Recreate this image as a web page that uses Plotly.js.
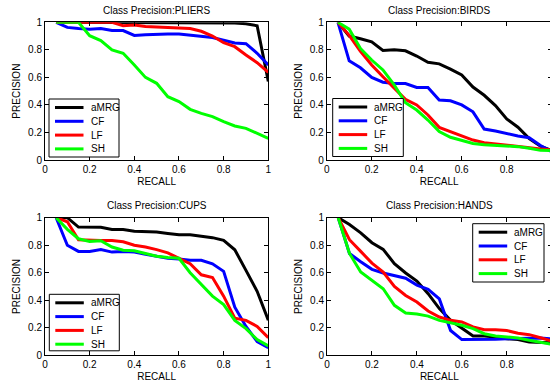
<!DOCTYPE html>
<html>
<head>
<meta charset="utf-8">
<script src="https://cdn.plot.ly/plotly-3.0.1.min.js"></script>
<style>html,body{margin:0;padding:0;overflow:hidden;background:#fff}</style>
</head>
<body>
<div id="chart"></div>
<script>
// ---------- data ----------
const recall = [0.05,0.10,0.15,0.20,0.25,0.30,0.35,0.40,0.45,0.50,0.55,0.60,0.65,0.70,0.75,0.80,0.85,0.90,0.95,1.00];
const methods = ['aMRG','CF','LF','SH'];
const classNames = ['PLIERS','BIRDS','CUPS','HANDS'];
const tickVals = [0,0.2,0.4,0.6,0.8,1];
const tickText = ['0','0.2','0.4','0.6','0.8','1'];

const pliers_aMRG = [1,1,1,1,1,1,1,1,1,1,1,1,1,1,1,1,0.995,0.99,0.975,0.57];
const pliers_CF   = [1,0.963,0.955,0.95,0.955,0.94,0.94,0.905,0.91,0.915,0.915,0.915,0.905,0.9,0.89,0.87,0.85,0.845,0.775,0.69];
const pliers_LF   = [1,1,1,1,1,1,0.975,0.98,0.97,0.965,0.965,0.96,0.955,0.935,0.9,0.852,0.823,0.763,0.707,0.637];
const pliers_SH   = [1,1,1,0.903,0.867,0.8,0.775,0.69,0.6,0.557,0.46,0.424,0.368,0.339,0.315,0.278,0.247,0.23,0.194,0.157];

const birds_aMRG = [1,0.9,0.88,0.858,0.795,0.8,0.793,0.755,0.71,0.698,0.66,0.617,0.53,0.47,0.395,0.298,0.238,0.155,0.1,0.07];
const birds_CF   = [1,0.72,0.67,0.6,0.565,0.555,0.555,0.527,0.527,0.435,0.43,0.4,0.35,0.225,0.21,0.19,0.175,0.162,0.105,0.06];
const birds_LF   = [1,0.905,0.79,0.69,0.605,0.52,0.44,0.4,0.327,0.237,0.206,0.174,0.145,0.126,0.116,0.107,0.097,0.087,0.08,0.073];
const birds_SH   = [1,0.95,0.81,0.726,0.654,0.545,0.416,0.363,0.29,0.206,0.165,0.14,0.12,0.11,0.106,0.106,0.097,0.085,0.07,0.068];

const cups_aMRG = [1,1,0.932,0.932,0.93,0.915,0.915,0.902,0.9,0.896,0.886,0.876,0.876,0.864,0.855,0.835,0.767,0.617,0.465,0.255];
const cups_CF   = [1,0.8,0.755,0.755,0.768,0.75,0.755,0.75,0.735,0.72,0.705,0.7,0.69,0.69,0.665,0.61,0.35,0.21,0.1,0.055];
const cups_LF   = [1,0.97,0.84,0.835,0.835,0.835,0.825,0.8,0.787,0.768,0.745,0.705,0.666,0.585,0.565,0.43,0.27,0.254,0.21,0.128];
const cups_SH   = [1,0.915,0.847,0.828,0.833,0.787,0.763,0.76,0.74,0.72,0.71,0.705,0.6,0.515,0.43,0.368,0.254,0.194,0.114,0.068];

const hands_aMRG = [1,0.95,0.89,0.818,0.77,0.666,0.598,0.54,0.448,0.339,0.254,0.194,0.14,0.14,0.133,0.12,0.115,0.097,0.093,0.09];
const hands_CF   = [1,0.74,0.68,0.625,0.598,0.58,0.56,0.51,0.48,0.41,0.18,0.114,0.114,0.114,0.117,0.12,0.123,0.125,0.126,0.12];
const hands_LF   = [1,0.84,0.755,0.67,0.605,0.5,0.435,0.387,0.322,0.278,0.254,0.242,0.206,0.186,0.186,0.18,0.16,0.15,0.128,0.104];
const hands_SH   = [1,0.74,0.605,0.545,0.484,0.363,0.307,0.3,0.285,0.254,0.237,0.218,0.194,0.157,0.14,0.133,0.126,0.109,0.097,0.08];

const seriesByClass = [
  [pliers_aMRG, pliers_CF, pliers_LF, pliers_SH],
  [birds_aMRG, birds_CF, birds_LF, birds_SH],
  [cups_aMRG, cups_CF, cups_LF, cups_SH],
  [hands_aMRG, hands_CF, hands_LF, hands_SH]
];

// ---------- styling ----------
const colors = ['#000000','#0000ff','#ff0000','#00ff00'];
const W = 552, H = 385;
const FONT = 'Liberation Sans, Arial, sans-serif';
const px = v => v / W;
const py = v => 1 - v / H;

const domains = [
  {x:[45,268.3],  y:[22.3,160]},
  {x:[326.7,551.7], y:[22.3,160]},
  {x:[45,268.3],  y:[217.7,355.3]},
  {x:[327,551.7], y:[217.7,355.3]}
];
const legendBoxes = [
  {x:49,    y:99,    w:70, h:58},
  {x:332.7, y:98.5,  w:70.6, h:58},
  {x:49.3,  y:294.3, w:70, h:56.5},
  {x:472.7, y:223.7, w:71.3, h:58.3}
];

const traces = [];
const layout = {
  width: W, height: H,
  margin: {l:0, r:0, t:0, b:0},
  paper_bgcolor: '#fff', plot_bgcolor: '#fff',
  showlegend: false,
  font: {family: FONT, size: 10, color: '#000'},
  shapes: [], annotations: []
};

function axisBase(title, standoff) {
  return {
    range: [0,1], tickmode: 'array', tickvals: tickVals, ticktext: tickText,
    ticks: 'inside', ticklen: 4, tickwidth: 1, tickcolor: '#000',
    showline: true, linecolor: '#000', linewidth: 1, mirror: 'ticks',
    showgrid: false, zeroline: false, fixedrange: true,
    tickfont: {family: FONT, size: 10, color: '#000'},
    title: {text: title, standoff: standoff, font: {family: FONT, size: 10, color: '#000'}}
  };
}

seriesByClass.forEach((series, k) => {
  const sfx = k === 0 ? '' : String(k + 1);
  series.forEach((vals, m) => {
    traces.push({
      type: 'scatter', mode: 'lines', name: methods[m],
      x: recall, y: vals,
      xaxis: 'x' + sfx, yaxis: 'y' + sfx,
      line: {color: colors[m], width: 3}
    });
  });
  const d = domains[k];
  const xa = axisBase('RECALL', 3);
  xa.domain = [px(d.x[0]), px(d.x[1])];
  xa.anchor = 'y' + sfx;
  const ya = axisBase('PRECISION', 5);
  ya.domain = [py(d.y[1]), py(d.y[0])];
  ya.anchor = 'x' + sfx;
  layout['xaxis' + sfx] = xa;
  layout['yaxis' + sfx] = ya;

  // subplot title
  layout.annotations.push({
    xref: 'paper', yref: 'paper',
    x: px((d.x[0] + d.x[1]) / 2), y: py(d.y[0] - 12),
    xanchor: 'center', yanchor: 'middle', showarrow: false,
    text: 'Class Precision:' + classNames[k],
    font: {family: FONT, size: 10, color: '#000'}
  });

  // legend box
  const b = legendBoxes[k];
  layout.shapes.push({
    type: 'rect', xref: 'paper', yref: 'paper', layer: 'above',
    x0: px(b.x), x1: px(b.x + b.w), y0: py(b.y + b.h), y1: py(b.y),
    fillcolor: '#fff', line: {color: '#000', width: 1}
  });
  methods.forEach((name, m) => {
    const ry = b.y + 8.5 + m * 13.8;
    layout.shapes.push({
      type: 'line', xref: 'paper', yref: 'paper', layer: 'above',
      x0: px(b.x + 6), x1: px(b.x + 34.5), y0: py(ry), y1: py(ry),
      line: {color: colors[m], width: 3}
    });
    layout.annotations.push({
      xref: 'paper', yref: 'paper', x: px(b.x + 39.5), y: py(ry),
      xanchor: 'left', yanchor: 'middle', showarrow: false,
      text: name, font: {family: FONT, size: 10, color: '#000'}
    });
  });
});

Plotly.newPlot('chart', traces, layout, {staticPlot: true, displayModeBar: false});
</script>
</body>
</html>
